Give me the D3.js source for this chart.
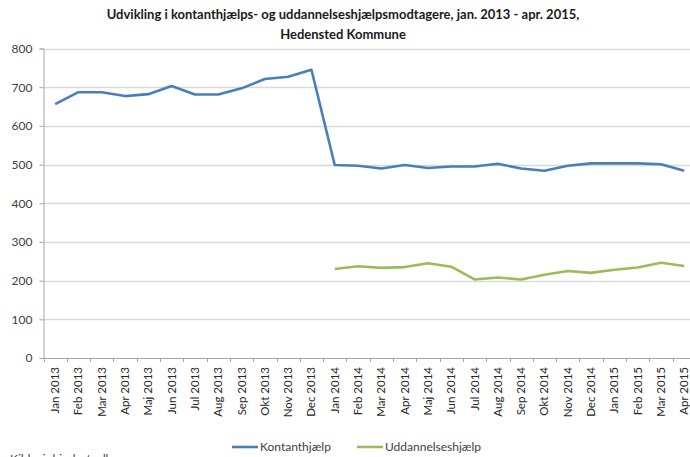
<!DOCTYPE html>
<html>
<head>
<meta charset="utf-8">
<script src="https://cdn.jsdelivr.net/npm/d3@7"></script>
<style>
  body { margin: 0; background: #fff; }
  svg { display: block; font-family: Lato, "Open Sans", sans-serif; }
</style>
</head>
<body>
<div id="chart"></div>
<script>
// Data
const months = ["Jan 2013", "Feb 2013", "Mar 2013", "Apr 2013", "Maj 2013", "Jun 2013", "Jul 2013",
    "Aug 2013", "Sep 2013", "Okt 2013", "Nov 2013", "Dec 2013", "Jan 2014", "Feb 2014", "Mar 2014",
    "Apr 2014", "Maj 2014", "Jun 2014", "Jul 2014", "Aug 2014", "Sep 2014", "Okt 2014", "Nov 2014",
    "Dec 2014", "Jan 2015", "Feb 2015", "Mar 2015", "Apr 2015"];

const kontant = [656, 687, 687, 677, 682, 703, 681, 681, 697, 721, 727, 745,
    499, 497, 490, 499, 491, 495, 495, 502, 490, 484, 497, 503, 503, 503, 501, 484];

// Uddannelseshjælp starts in Jan 2014
const uddannelse = [null, null, null, null, null, null, null, null, null, null, null, null,
    230, 237, 233, 235, 245, 236, 203, 208, 203, 215, 225, 220, 228, 234, 246, 238];

const yTicks = [0, 100, 200, 300, 400, 500, 600, 700, 800];

const series = [
    {name: "Kontanthjælp", values: kontant, color: "#4a7ebb"},
    {name: "Uddannelseshjælp", values: uddannelse, color: "#9bbb59"}
];

// Dimensions
const W = 690, H = 457;
const plotLeft = 43.5, plotTop = 48.5, plotBottom = 358;

const svg = d3.select("#chart")
    .append("svg")
    .attr("width", W)
    .attr("height", H);

// Scales
const x = d3.scaleBand()
    .domain(months)
    .range([plotLeft, plotLeft + 28 * 23.3]);

const y = d3.scaleLinear()
    .domain([0, 800])
    .range([plotBottom, plotTop]);

// Gridlines
svg.append("g")
    .selectAll("line")
    .data(yTicks.filter(d => d > 0))
    .enter()
    .append("line")
    .attr("x1", plotLeft)
    .attr("x2", W)
    .attr("y1", d => Math.round(y(d)) + 0.5)
    .attr("y2", d => Math.round(y(d)) + 0.5)
    .attr("stroke", "#d9d9d9")
    .attr("stroke-width", 1.3);

// Y axis
const yAxis = svg.append("g")
    .attr("transform", `translate(${plotLeft},0)`)
    .call(d3.axisLeft(y).tickValues(yTicks).tickSize(4).tickPadding(7));
yAxis.select(".domain").attr("stroke", "#a6a6a6");
yAxis.selectAll(".tick line").attr("stroke", "#a6a6a6");
yAxis.selectAll("text")
    .attr("fill", "#404040")
    .style("font-size", "12px")
    .style("font-family", "Lato, sans-serif");

// X axis: ticks at band boundaries
const xAxis = svg.append("g")
    .attr("transform", `translate(0,${plotBottom})`)
    .call(d3.axisBottom(x).tickSize(0).tickPadding(0));
xAxis.select(".domain").attr("stroke", "#a6a6a6");
xAxis.selectAll("text")
    .attr("fill", "#262626")
    .style("font-size", "11.5px")
    .style("font-family", "Lato, sans-serif")
    .style("text-anchor", "end")
    .attr("transform", "rotate(-90)")
    .attr("x", -9)
    .attr("y", 0)
    .attr("dy", "0.35em");

svg.append("g")
    .selectAll("line")
    .data(months)
    .enter()
    .append("line")
    .attr("x1", d => Math.round(x(d)) + 0.5)
    .attr("x2", d => Math.round(x(d)) + 0.5)
    .attr("y1", plotBottom)
    .attr("y2", plotBottom + 4)
    .attr("stroke", "#a6a6a6");

// Lines
const line = d3.line()
    .defined(d => d != null)
    .x((d, i) => x(months[i]) + x.bandwidth() / 2)
    .y(d => y(d));

series.forEach(s => {
    svg.append("path")
        .datum(s.values)
        .attr("fill", "none")
        .attr("stroke", s.color)
        .attr("stroke-width", 2.6)
        .attr("stroke-linejoin", "round")
        .attr("d", line);
});

// Title
const title = svg.append("text")
    .attr("text-anchor", "middle")
    .attr("fill", "#1a1a1a")
    .style("font-size", "13px")
    .style("font-weight", "bold");
title.append("tspan")
    .attr("x", 343)
    .attr("y", 19)
    .text("Udvikling i kontanthjælps- og uddannelseshjælpsmodtagere, jan. 2013 - apr. 2015,");
title.append("tspan")
    .attr("x", 343)
    .attr("y", 39)
    .text("Hedensted Kommune");

// Legend
const legendPos = [232, 357];
series.forEach((s, i) => {
    const g = svg.append("g").attr("transform", `translate(${legendPos[i]},447)`);
    g.append("line")
        .attr("x1", 0)
        .attr("x2", 26)
        .attr("stroke", s.color)
        .attr("stroke-width", 2.6);
    g.append("text")
        .attr("x", 28)
        .attr("dy", "0.35em")
        .attr("fill", "#404040")
        .style("font-size", "12px")
        .text(s.name);
});

// Source (cut off at the bottom)
svg.append("text")
    .attr("x", 10)
    .attr("y", 463)
    .attr("fill", "#404040")
    .style("font-size", "12px")
    .text("Kilde: jobindsats.dk");
</script>
</body>
</html>
